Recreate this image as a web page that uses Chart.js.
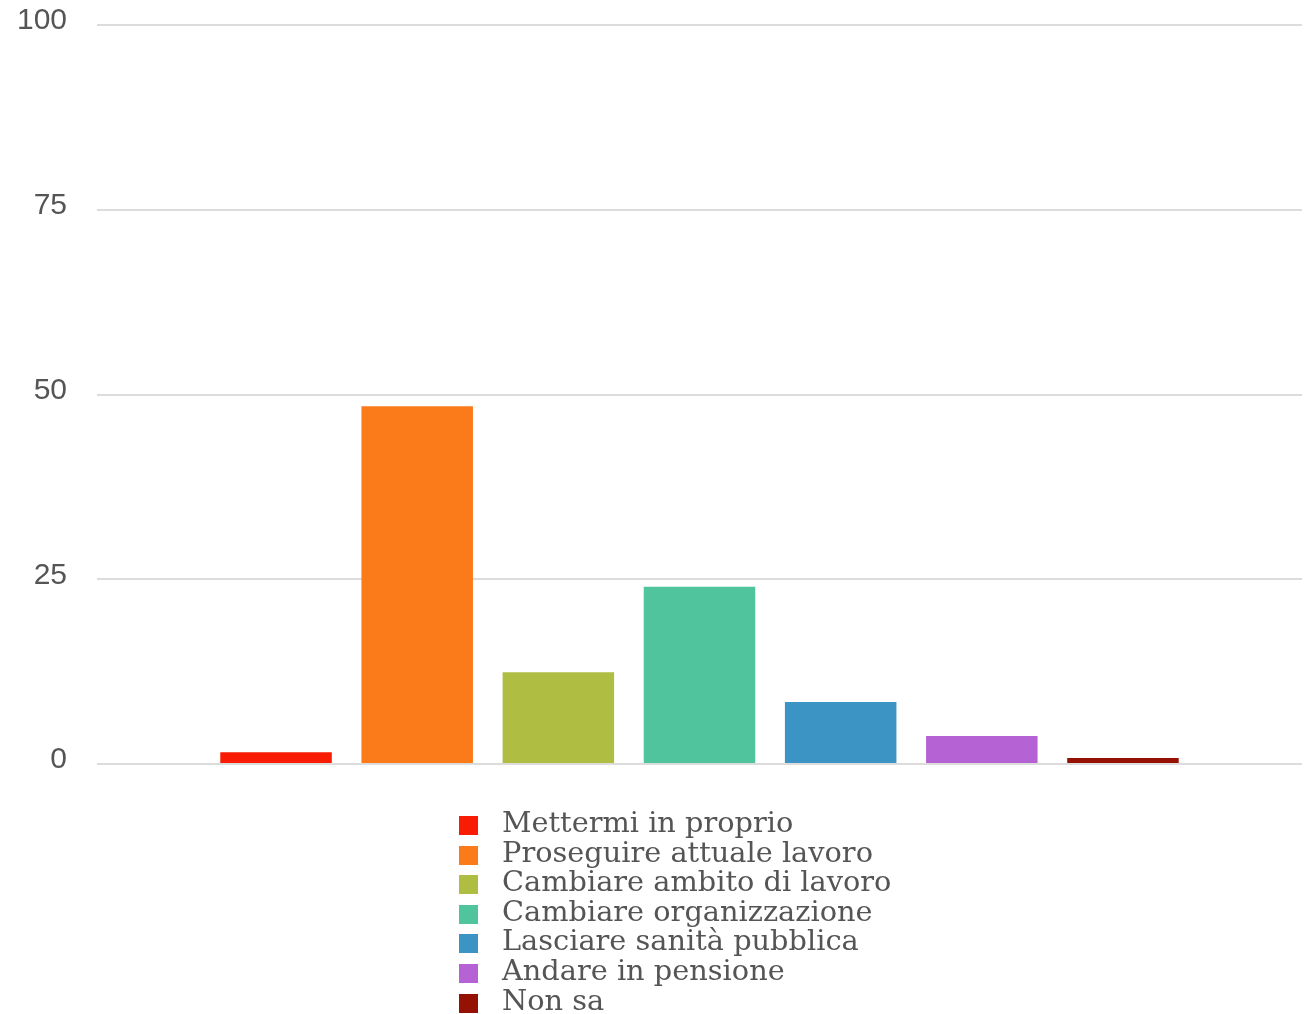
<!DOCTYPE html>
<html lang="it">
<head>
<meta charset="utf-8">
<script src="https://cdn.jsdelivr.net/npm/chart.js@4/dist/chart.umd.min.js"></script>
<style>
  html, body { margin: 0; padding: 0; background: #fff; overflow: hidden; }
  #contenitore { position: absolute; left: 0; top: -23px; width: 1308px; height: 835px; }
  #legenda { position: absolute; left: 459px; top: 808px; margin: 0; padding: 0; list-style: none;
    font-family: "DejaVu Serif", serif; font-size: 28.8px; color: #555; }
  #legenda li { height: 29.6px; line-height: 29.6px; white-space: nowrap; }
  #legenda span.box { display: inline-block; width: 19px; height: 19px; margin-right: 24px; vertical-align: -3px; }
</style>
</head>
<body>
<div id="contenitore"><canvas id="grafico"></canvas></div>
<ul id="legenda"></ul>
<script>
// Risposte (percentuali) e colori delle barre
const categorie = [
    'Mettermi in proprio',
    'Proseguire attuale lavoro',
    'Cambiare ambito di lavoro',
    'Cambiare organizzazione',
    'Lasciare sanità pubblica',
    'Andare in pensione',
    'Non sa'
];
const valori = [1.6, 48.4, 12.4, 24.0, 8.4, 3.8, 0.8];
const colori = ['#f81c05', '#fb7a1a', '#afbe43', '#50c49c', '#3b94c4', '#b462d4', '#951104'];
const tickAsseY = [0, 25, 50, 75, 100];

// Un solo gruppo, una serie per ogni risposta
const datasets = categorie.map((nome, i) => ({
    label: nome,
    data: [valori[i]],
    backgroundColor: colori[i],
    borderWidth: 0,
    categoryPercentage: 0.82,
    barPercentage: 0.79
}));

const ctx = document.getElementById('grafico').getContext('2d');
const grafico = new Chart(ctx, {
    type: 'bar',
    data: { labels: [''], datasets: datasets },
    options: {
        responsive: true,
        maintainAspectRatio: false,
        animation: false,
        layout: { autoPadding: false, padding: { top: 24, right: 6, left: 18, bottom: 27 } },
        plugins: {
            legend: { display: false },
            tooltip: { enabled: false }
        },
        scales: {
            x: { display: false },
            y: {
                min: 0,
                max: 100,
                afterBuildTicks: (scala) => { scala.ticks = tickAsseY.map(v => ({ value: v })); },
                afterFit: (scala) => { scala.width = 79; },
                border: { display: false },
                grid: { color: '#dcdcdc', lineWidth: 2, drawTicks: false },
                ticks: {
                    padding: 30,
                    labelOffset: -4,
                    color: '#555',
                    font: { family: '"Liberation Sans", Arial, sans-serif', size: 30 }
                }
            }
        }
    }
});

// Legenda verticale in HTML, costruita dagli stessi array
const legenda = document.getElementById('legenda');
categorie.forEach((nome, i) => {
    const li = document.createElement('li');
    li.innerHTML = `<span class="box" style="background:${colori[i]}"></span>${nome}`;
    legenda.appendChild(li);
});
</script>
</body>
</html>
